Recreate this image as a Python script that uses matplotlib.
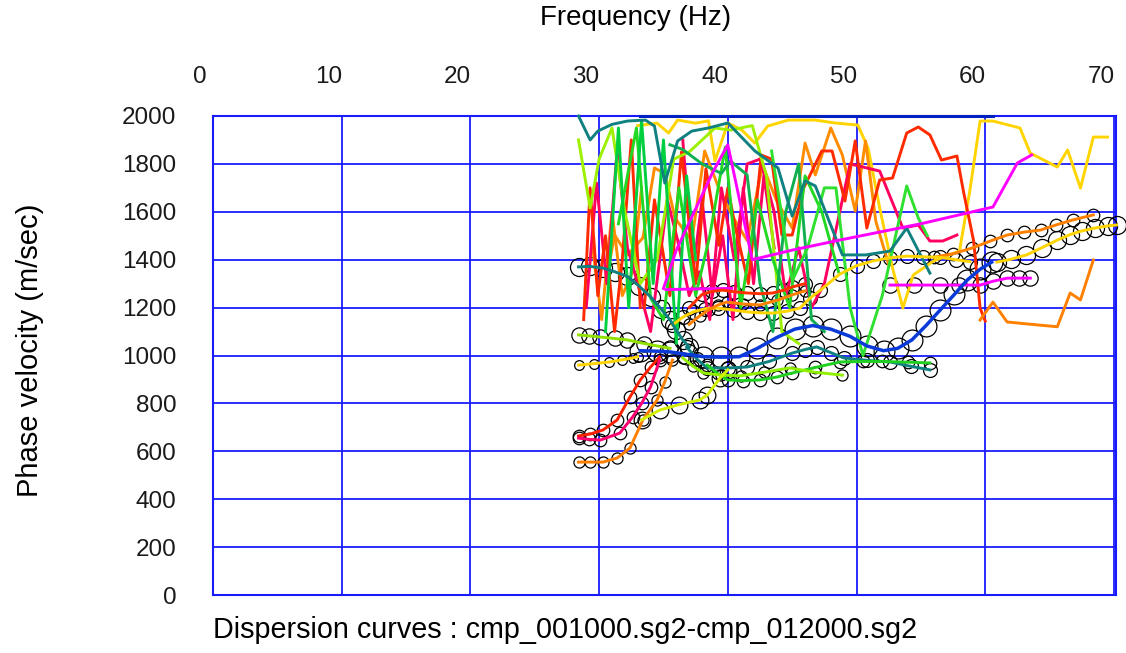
import matplotlib
matplotlib.use("Agg")
import matplotlib.pyplot as plt
import matplotlib.transforms as mtransforms

plt.rcParams['font.family'] = ['Liberation Sans', 'DejaVu Sans']

# ---- axis setup values ----
x_ticks = [0, 10, 20, 30, 40, 50, 60, 70]
y_ticks = [0, 200, 400, 600, 800, 1000, 1200, 1400, 1600, 1800, 2000]
title_text = "Dispersion curves : cmp_001000.sg2-cmp_012000.sg2"

# ---- smooth picked curves (drawn with black circles) ----
f_blue = [33.2, 34.5, 35.5, 36.8, 38.1, 39.5, 40.9, 42.3, 43.8, 45.2, 46.6, 48.0,
          49.5, 50.8, 52.1, 53.2, 54.3, 55.4, 56.5, 57.6, 58.6, 59.6, 60.5]
v_blue = [1020, 1018, 1015, 1005, 995, 993, 995, 1030, 1075, 1110, 1125, 1110,
          1080, 1040, 1020, 1030, 1065, 1125, 1190, 1255, 1315, 1360, 1390]

f_teal_hi = [28.4, 29.3, 30.3, 31.2, 32.2, 33.1, 34.0, 34.8, 35.5, 36.0, 36.5, 37.0]
v_teal_hi = [1370, 1372, 1365, 1350, 1330, 1290, 1245, 1195, 1150, 1105, 1065, 1035]

f_teal_lo = [36.8, 37.6, 38.4, 40.0, 41.5, 43.2, 45.0, 46.0, 46.9, 48.0, 49.0, 50.8,
             52.6, 54.2, 55.7]
v_teal_lo = [1035, 985, 948, 948, 952, 975, 1010, 1025, 1036, 1012, 990, 980,
             973, 955, 940]

f_green_lo = [38.4, 39.2, 40.0, 41.2, 42.5, 43.8, 45.0, 46.8, 48.7, 50.5, 52.0, 54.0, 55.7]
v_green_lo = [960, 925, 898, 895, 898, 910, 927, 950, 973, 975, 975, 972, 969]

f_lime_lo = [36.5, 37.3, 38.1, 39.5, 41.0, 42.8, 44.8, 46.8, 48.9]
v_lime_lo = [990, 955, 927, 918, 915, 930, 948, 930, 918]

f_gold_mid = [35.7, 36.5, 37.3, 38.2, 39.2, 40.4, 41.5, 42.5, 43.5, 44.6, 45.6, 46.4,
              47.2, 48.7, 50.0, 51.3, 52.6, 53.9, 55.2, 56.5, 57.7, 58.8]
v_gold_mid = [1127, 1160, 1182, 1195, 1198, 1190, 1182, 1178, 1177, 1185, 1198, 1240,
              1273, 1340, 1375, 1395, 1408, 1415, 1412, 1410, 1400, 1392]

f_red_mid = [37.0, 38.0, 38.8, 39.6, 40.5, 41.5, 42.5, 43.5, 44.3, 45.0, 46.0]
v_red_mid = [1200, 1255, 1268, 1273, 1266, 1261, 1258, 1261, 1272, 1286, 1300]

f_orange_mid = [37.0, 37.8, 38.5, 39.2, 39.9, 41.2, 42.5, 43.8, 45.0, 46.0]
v_orange_mid = [1130, 1165, 1190, 1210, 1223, 1215, 1211, 1230, 1253, 1270]

f_red_lo = [28.4, 29.3, 30.3, 31.4, 32.4, 33.2, 34.0, 34.7]
v_red_lo = [664, 672, 689, 731, 827, 898, 952, 994]

f_pink_lo = [28.4, 29.2, 30.1, 31.6, 32.6, 33.3, 34.0, 34.7]
v_pink_lo = [655, 650, 647, 676, 743, 800, 869, 981]

f_orange_lo = [28.4, 29.3, 30.3, 31.4, 32.4, 33.4, 34.5, 35.1, 35.7]
v_orange_lo = [555, 555, 555, 572, 614, 731, 814, 890, 981]

f_chart_lo = [33.3, 34.7, 36.2, 37.8, 38.4, 39.4, 40.0]
v_chart_lo = [731, 772, 795, 814, 835, 906, 940]

f_gold_lo = [28.4, 29.6, 30.8, 31.8, 32.6, 33.0]
v_gold_lo = [960, 966, 973, 982, 990, 995]

f_lime_left = [28.4, 29.2, 30.1, 31.2, 32.2, 33.5, 35.5]
v_lime_left = [1086, 1082, 1077, 1071, 1065, 1050, 1030]

f_gold_right = [60.9, 62.0, 63.2, 64.4, 65.6, 66.6, 67.5, 68.5, 69.5, 70.2]
v_gold_right = [1390, 1402, 1420, 1450, 1482, 1505, 1520, 1532, 1541, 1545]

f_orange_right = [56.0, 57.5, 59.0, 60.4, 61.7, 63.0, 64.3, 65.5, 66.8, 68.4]
v_orange_right = [1410, 1425, 1449, 1478, 1503, 1515, 1524, 1545, 1566, 1587]

f_magenta_right = [52.6, 54.5, 56.5, 58.0, 59.6, 60.6, 61.7, 62.6, 63.5]
v_magenta_right = [1294, 1294, 1294, 1294, 1294, 1310, 1323, 1323, 1323]

# ---- noisy picks without circles ----
f_orange_step = [59.6, 60.6, 61.7, 63.6, 65.6, 66.6, 67.4, 68.4]
v_orange_step = [1148, 1223, 1140, 1130, 1120, 1261, 1232, 1399]

f_magenta = [35.0, 36.0, 38.8, 40.0, 41.9, 45.0, 48.7, 55.0, 60.6, 62.5, 63.6]
v_magenta = [1280, 1440, 1762, 1880, 1400, 1440, 1482, 1550, 1620, 1804, 1837]

f_magenta_flat = [35.2, 37.5, 40.3]
v_magenta_flat = [1275, 1278, 1280]

f_gold_top = [33.0, 34.5, 35.4, 36.1, 37.5, 38.5, 39.0, 40.0, 41.1, 42.1, 43.1, 44.7,
              46.8, 48.3, 50.1, 50.9, 51.8, 52.8, 53.6, 54.4, 56.0, 58.0, 58.8, 59.6,
              60.6, 62.7, 63.5, 65.6, 66.4, 67.4, 68.4, 69.5]
v_gold_top = [1960, 1970, 1929, 1983, 1970, 1980, 1812, 1971, 1941, 1887, 1958, 1983,
              1983, 1971, 1962, 1866, 1616, 1365, 1198, 1336, 1395, 1436, 1687, 1979,
              1979, 1950, 1845, 1787, 1858, 1699, 1912, 1912]

f_orange_noisy = [30.5, 31.2, 32.2, 33.4, 34.3, 35.1, 35.9, 37.2, 38.2, 39.2, 40.3, 41.5,
                  42.7, 43.8, 45.0, 46.0, 46.8, 48.0, 48.9, 49.9, 50.7, 51.5, 52.5]
v_orange_noisy = [1300, 1503, 1420, 1491, 1783, 1760, 1574, 1478, 1854, 1712, 1587, 1480,
                  1795, 1645, 1532, 1887, 1754, 1950, 1837, 1603, 1896, 1560, 1380]

f_orange_left = [29.5, 30.2, 31.0, 31.8, 32.6, 33.3]
v_orange_left = [1450, 1150, 1600, 1250, 1350, 1700]

f_red_noisy = [33.5, 34.3, 35.5, 36.4, 37.5, 38.3, 39.3, 40.0, 40.6, 41.6, 42.6, 43.4,
               44.2, 45.0, 45.9, 47.3, 48.1, 49.1, 49.9, 50.8, 51.8, 52.8, 53.9, 54.8,
               55.7, 56.6, 57.8, 58.3, 59.1, 59.6, 60.0]
v_red_noisy = [1200, 1650, 1250, 1850, 1300, 1780, 1460, 1700, 1532, 1300, 1837, 1820,
               1503, 1503, 1700, 1854, 1854, 1645, 1896, 1532, 1733, 1741, 1929, 1954,
               1921, 1816, 1833, 1687, 1478, 1198, 1144]

f_red_left = [28.8, 29.3, 29.9, 30.5, 31.2, 31.8, 32.5, 33.2]
v_red_left = [1150, 1700, 1250, 1500, 1100, 1400, 1900, 1200]

f_pink_noisy = [29.0, 29.8, 30.6, 31.4, 32.2, 33.0, 34.0, 35.3, 36.1, 37.0, 37.8, 38.6,
                39.5, 40.5, 41.5, 42.5, 43.6, 44.5, 45.5, 46.5, 47.5, 48.5, 49.5, 50.8,
                51.8, 53.6, 54.8, 55.7, 56.7, 57.8]
v_pink_noisy = [1200, 1720, 1300, 1858, 1450, 1300, 1100, 1649, 1482, 1250, 1350, 1150,
                1700, 1400, 1800, 1820, 1600, 1250, 1450, 1200, 1300, 1550, 1800, 1783,
                1770, 1532, 1545, 1478, 1478, 1503]

f_pink2_noisy = [36.5, 37.3, 38.0, 38.8, 39.6, 40.4, 41.2, 42.0, 42.8, 43.6]
v_pink2_noisy = [1900, 1350, 1650, 1250, 1500, 1150, 1700, 1300, 1750, 1450]

f_green_noisy = [31.5, 32.9, 34.0, 35.0, 36.2, 37.5, 38.6, 39.8, 41.0, 42.3, 43.5, 44.8,
                 46.0, 47.3, 48.6]
v_green_noisy = [1550, 1950, 1240, 1150, 1700, 1250, 1500, 1870, 1200, 1650, 1400, 1200,
                 1750, 1600, 1350]

f_green3_noisy = [30.5, 31.5, 32.3, 33.3, 34.2, 35.0, 36.0, 36.8, 37.5]
v_green3_noisy = [1100, 1950, 1200, 1980, 1300, 1900, 1050, 1750, 1400]

f_seagreen_noisy = [35.5, 36.5, 38.0, 39.5, 40.2, 41.5, 42.5, 43.5, 44.5, 45.5, 46.5, 47.5]
v_seagreen_noisy = [1880, 1860, 1800, 1760, 1812, 1754, 1300, 1100, 1600, 1800, 1150, 1100]

f_lime_noisy = [28.4, 29.3, 30.0, 31.0, 32.0, 33.2, 34.5, 35.8, 37.0, 38.0, 39.0, 40.2,
                41.9, 43.0, 44.2, 45.5]
v_lime_noisy = [1900, 1616, 1820, 1950, 1600, 1300, 1400, 1820, 1850, 1900, 1950, 1941,
                1960, 1750, 1100, 1050]

f_green2_noisy = [43.4, 45.0, 46.2, 47.5, 48.4, 49.5, 50.5, 52.0, 53.9, 54.8, 55.5]
v_green2_noisy = [1854, 1311, 1450, 1700, 1700, 1200, 1000, 1250, 1708, 1574, 1500]

f_teal_noisy = [28.4, 29.3, 29.9, 31.0, 32.2, 33.6, 34.3, 35.1, 35.7, 36.1, 37.2, 38.5,
                40.0, 42.1, 43.9, 45.0, 46.0, 46.8, 48.9, 50.7, 52.6, 53.9, 55.7]
v_teal_noisy = [2000, 1900, 1937, 1965, 1979, 1983, 1958, 1720, 1825, 1896, 1937, 1950,
                1971, 1854, 1783, 1582, 1729, 1708, 1420, 1420, 1436, 1532, 1344]

f_top_line = [33.2, 60.6]
v_top_line = [2000, 2000]

fig = plt.figure(figsize=(11.26, 6.53), dpi=100)
ax = fig.add_axes([213 / 1126, 58 / 653, 903 / 1126, 479 / 653])


def pick(f, v, color, ms=0, lw=2.1):
    if ms:
        ax.plot(f, v, linestyle='none', marker='o', ms=ms, mfc='none',
                mec='black', mew=0.9, zorder=3, clip_on=False)
    ax.plot(f, v, color=color, lw=lw, zorder=4, clip_on=False)


# noisy upper picks first
pick(f_gold_top, v_gold_top, '#ffd400')
pick(f_orange_noisy, v_orange_noisy, '#ff8c00')
pick(f_orange_left, v_orange_left, '#ff8c00')
pick(f_pink_noisy, v_pink_noisy, '#ff0060')
pick(f_pink2_noisy, v_pink2_noisy, '#ff0060')
pick(f_red_noisy, v_red_noisy, '#ff2a00')
pick(f_red_left, v_red_left, '#ff2a00')
pick(f_lime_noisy, v_lime_noisy, '#9cf000')
pick(f_green_noisy, v_green_noisy, '#22d822')
pick(f_green3_noisy, v_green3_noisy, '#00d040')
pick(f_seagreen_noisy, v_seagreen_noisy, '#10b050')
pick(f_green2_noisy, v_green2_noisy, '#30e030')
pick(f_teal_noisy, v_teal_noisy, '#108080')
pick(f_magenta, v_magenta, '#ff00ff')
pick(f_magenta_flat, v_magenta_flat, '#ff00ff')
pick(f_orange_step, v_orange_step, '#ff8000')
pick(f_top_line, v_top_line, '#0020c0', lw=2.2)

# picked curves with circles
pick(f_gold_right, v_gold_right, '#ffd400', ms=13)
pick(f_orange_right, v_orange_right, '#ff8000', ms=9)
pick(f_magenta_right, v_magenta_right, '#ff00ff', ms=11)
pick(f_gold_mid, v_gold_mid, '#ffd400', ms=10)
pick(f_red_mid, v_red_mid, '#ff3000', ms=10)
pick(f_orange_mid, v_orange_mid, '#ff8000', ms=8)
pick(f_teal_lo, v_teal_lo, '#108080', ms=10)
pick(f_green_lo, v_green_lo, '#20d020', ms=9)
pick(f_lime_lo, v_lime_lo, '#90f000', ms=8)
pick(f_red_lo, v_red_lo, '#ff2000', ms=9)
pick(f_pink_lo, v_pink_lo, '#ff0070', ms=9)
pick(f_orange_lo, v_orange_lo, '#ff8000', ms=8)
pick(f_chart_lo, v_chart_lo, '#d4f000', ms=12)
pick(f_gold_lo, v_gold_lo, '#ffd400', ms=7)
pick(f_lime_left, v_lime_left, '#90e000', ms=11)
pick(f_teal_hi, v_teal_hi, '#108080', ms=13)
pick(f_blue, v_blue, '#0a3ad8', ms=15, lw=2.5)

ax.set_xlim(0, 70.16)
ax.set_ylim(0, 2000)
ax.set_xticks(x_ticks)
ax.set_yticks(y_ticks)
ax.xaxis.tick_top()
ax.tick_params(axis='both', length=0, labelsize=17.5, colors='#1a1a1a')
ax.tick_params(axis='x', pad=20)
ax.tick_params(axis='y', pad=26.5)
ax.grid(True, color='#1a1aff', lw=1.3)
ax.set_axisbelow(True)
for s in ax.spines.values():
    s.set_color('#1a1aff')
    s.set_linewidth(1.5)

# labels sit a little left of their grid lines
shift = mtransforms.ScaledTranslation(-13 / 100, 0, fig.dpi_scale_trans)
for lbl in ax.get_xticklabels():
    lbl.set_transform(lbl.get_transform() + shift)

fig.text(636 / 1126, 1 - 18 / 653, "Frequency (Hz)", ha='center', va='center', fontsize=20)
fig.text(30 / 1126, 1 - 350 / 653, "Phase velocity (m/sec)", ha='center', va='center',
         rotation=90, fontsize=21)
fig.text(213 / 1126, 1 - 630 / 653, title_text, ha='left', va='center', fontsize=20.7)

fig.savefig("out.png", dpi=100)
